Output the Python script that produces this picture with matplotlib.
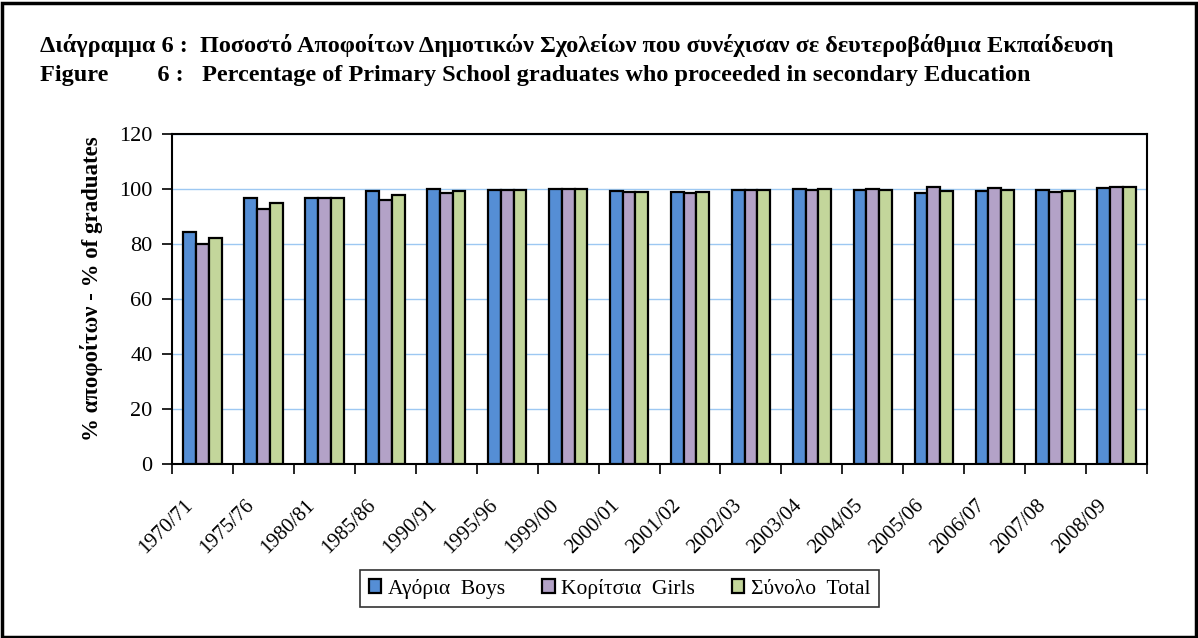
import matplotlib.pyplot as plt
import numpy as np
from matplotlib.patches import Rectangle
from matplotlib.transforms import ScaledTranslation

years = ["1970/71", "1975/76", "1980/81", "1985/86", "1990/91", "1995/96", "1999/00",
         "2000/01", "2001/02", "2002/03", "2003/04", "2004/05", "2005/06", "2006/07",
         "2007/08", "2008/09"]
boys = [84.5, 96.8, 96.6, 99.2, 100.0, 99.8, 100.0, 99.2, 98.9, 99.5, 100.1, 99.5, 98.5, 99.2, 99.5, 100.2]
girls = [79.9, 92.6, 96.8, 96.0, 98.5, 99.8, 100.0, 98.8, 98.7, 99.5, 99.6, 100.0, 100.6, 100.4, 99.1, 100.7]
total = [82.1, 95.0, 96.8, 97.7, 99.4, 99.8, 100.0, 99.0, 98.9, 99.5, 100.0, 99.8, 99.4, 99.5, 99.4, 100.6]

series = [("Αγόρια  Boys", boys, "#558ED5"),
          ("Κορίτσια  Girls", girls, "#B3A2C7"),
          ("Σύνολο  Total", total, "#C3D69B")]

plt.rcParams['font.family'] = ['Liberation Serif', 'DejaVu Serif']

fig = plt.figure(figsize=(11.98, 6.38), dpi=100)
fig.patches.append(Rectangle((0.002, 0.002), 0.996, 0.994, transform=fig.transFigure,
                             fill=False, edgecolor="black", linewidth=2.5))

ax = fig.add_axes([0.1436, 0.2727, 0.8139, 0.5172])
x = np.arange(len(years))
w = 0.21
for i, (name, vals, col) in enumerate(series):
    ax.bar(x + (i - 1) * w, vals, width=w, color=col, edgecolor="black", linewidth=1.6,
           label=name, zorder=3)

ax.set_xlim(-0.5, len(years) - 0.5)
ax.set_ylim(0, 120)
ax.set_yticks(range(0, 121, 20))
ax.yaxis.grid(True, color="#9DC8F2", linewidth=1, zorder=0)
ax.set_xticks(np.arange(-0.5, len(years), 1))
ax.set_xticklabels([])
ax.set_xticks(x, minor=True)
ax.set_xticklabels(years, minor=True, rotation=45, ha="right", va="top",
                   rotation_mode="anchor", fontsize=15)
ax.tick_params(axis="x", which="minor", length=0, pad=23)
ax.tick_params(axis="x", which="major", length=7, width=1.2, direction="out")
ax.tick_params(axis="y", length=7, width=1.2, direction="out", labelsize=16, pad=7)
shift = ScaledTranslation(-19 / 100, 0, fig.dpi_scale_trans)
for lab in ax.get_xticklabels(minor=True):
    lab.set_transform(lab.get_transform() + shift)
for s in ax.spines.values():
    s.set_linewidth(1.5)

ax.set_ylabel("% αποφοίτων - % of graduates", fontsize=16.5, fontweight="bold")
ax.yaxis.set_label_coords(-0.0708, 0.53)

fig.text(0.033, 0.928, "Διάγραμμα 6 :  Ποσοστό Αποφοίτων Δημοτικών Σχολείων που συνέχισαν σε δευτεροβάθμια Εκπαίδευση",
         fontsize=17.5, fontweight="bold", va="center")
fig.text(0.033, 0.882, "Figure        6 :   Percentage of Primary School graduates who proceeded in secondary Education",
         fontsize=17.5, fontweight="bold", va="center")

leg = fig.legend(loc="center", bbox_to_anchor=(0.5171, 0.077), ncol=3, fontsize=15.5,
                 frameon=True, fancybox=False, edgecolor="black", handlelength=0.6,
                 handleheight=0.6, handletextpad=0.3, columnspacing=1.7, borderpad=0.4)
leg.get_frame().set_linewidth(1.2)

fig.savefig("out.png", dpi=100)
